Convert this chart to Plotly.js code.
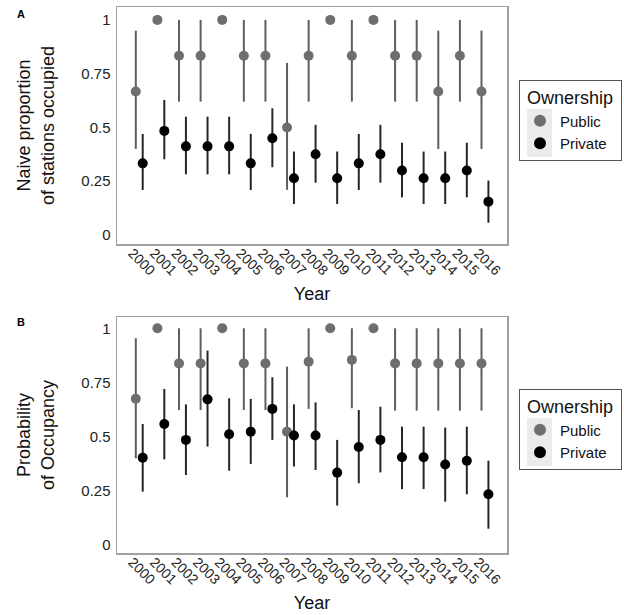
<!DOCTYPE html>
<html>
<head>
<meta charset="utf-8">
<script src="https://cdn.plot.ly/plotly-3.0.1.min.js"></script>
<style>html,body{margin:0;padding:0;background:#fff;}#chart{width:624px;height:615px;}</style>
</head>
<body>
<div id="chart"></div>
<script>
const years = [2000,2001,2002,2003,2004,2005,2006,2007,2008,2009,2010,2011,2012,2013,2014,2015,2016];
const yearLabels = years.map(String);

// Panel A: naive proportion of stations occupied
const naivePublic   = [0.667,1,0.833,0.833,1,0.833,0.833,0.5,0.833,1,0.833,1,0.833,0.833,0.667,0.833,0.667];
const naivePublicLo = [0.40,1,0.62,0.62,1,0.62,0.62,0.21,0.62,1,0.62,1,0.62,0.62,0.40,0.62,0.40];
const naivePublicHi = [0.95,1,1.0,1.0,1,1.0,1.0,0.80,1.0,1,1.0,1,1.0,1.0,0.95,1.0,0.95];
const naivePrivate   = [0.333,0.484,0.412,0.412,0.412,0.333,0.45,0.264,0.375,0.264,0.333,0.375,0.30,0.264,0.264,0.30,0.155];
const naivePrivateLo = [0.209,0.352,0.282,0.282,0.282,0.209,0.315,0.144,0.243,0.144,0.209,0.243,0.175,0.144,0.144,0.175,0.057];
const naivePrivateHi = [0.47,0.628,0.55,0.55,0.55,0.47,0.589,0.388,0.512,0.388,0.47,0.512,0.429,0.388,0.388,0.429,0.253];

// Panel B: probability of occupancy
const occPublic   = [0.675,1,0.838,0.838,1,0.838,0.838,0.523,0.846,1,0.854,1,0.838,0.838,0.838,0.838,0.838];
const occPublicLo = [0.40,1,0.623,0.623,1,0.623,0.623,0.22,0.628,1,0.631,1,0.62,0.62,0.62,0.62,0.62];
const occPublicHi = [0.954,1,1.0,1.0,1,1.0,1.0,0.823,1.0,1,1.0,1,1.0,1.0,1.0,1.0,1.0];
const occPrivate   = [0.403,0.558,0.485,0.672,0.511,0.523,0.628,0.505,0.505,0.334,0.452,0.485,0.405,0.405,0.371,0.389,0.234];
const occPrivateLo = [0.246,0.395,0.323,0.454,0.343,0.374,0.485,0.362,0.346,0.182,0.285,0.335,0.258,0.258,0.20,0.234,0.075];
const occPrivateHi = [0.558,0.72,0.649,0.897,0.677,0.674,0.774,0.649,0.658,0.485,0.623,0.638,0.546,0.546,0.542,0.546,0.389];

const dodge = 0.16;
const pubColor = '#6e6e6e', pubLine = '#5e5e5e';
const privColor = '#000000', privLine = '#262626';

function series(name, vals, lo, hi, offset, color, lineColor, xa, ya, legend) {
  return {
    type: 'scatter', mode: 'markers', name: name,
    x: years.map(y => y + offset), y: vals,
    xaxis: xa, yaxis: ya, legend: legend, showlegend: true,
    marker: {color: color, size: 10, line: {width: 0}},
    error_y: {type: 'data', symmetric: false,
      array: hi.map((h, i) => h - vals[i]),
      arrayminus: lo.map((l, i) => vals[i] - l),
      color: lineColor, thickness: 2, width: 0}
  };
}

const data = [
  series('Public', naivePublic, naivePublicLo, naivePublicHi, -dodge, pubColor, pubLine, 'x', 'y', 'legend'),
  series('Private', naivePrivate, naivePrivateLo, naivePrivateHi, dodge, privColor, privLine, 'x', 'y', 'legend'),
  series('Public', occPublic, occPublicLo, occPublicHi, -dodge, pubColor, pubLine, 'x2', 'y2', 'legend2'),
  series('Private', occPrivate, occPrivateLo, occPrivateHi, dodge, privColor, privLine, 'x2', 'y2', 'legend2')
];

const fontFam = 'Liberation Sans, Arial, sans-serif';
function xaxis(anchor) {
  return {
    anchor: anchor, domain: [117/624, 507/624], range: [1998.97, 2017.02],
    tickmode: 'array', tickvals: years, ticktext: yearLabels, tickangle: 45,
    ticks: '', ticklabelshift: -7, ticklabelstandoff: -6,
    tickfont: {family: fontFam, size: 14, color: '#222'},
    showgrid: false, zeroline: false,
    showline: true, mirror: true, linecolor: '#a0a0a0', linewidth: 1.5,
    title: {text: 'Year', font: {family: fontFam, size: 18, color: '#111'}, standoff: 10}
  };
}
function yaxis(anchor, domain, range, title) {
  return {
    anchor: anchor, domain: domain, range: range,
    tickmode: 'array', tickvals: [0, 0.25, 0.5, 0.75, 1], ticktext: ['0', '0.25', '0.5', '0.75', '1'],
    ticks: '', ticklabelstandoff: 2,
    tickfont: {family: fontFam, size: 15, color: '#222'},
    showgrid: false, zeroline: false,
    showline: true, mirror: true, linecolor: '#a0a0a0', linewidth: 1.5,
    title: {text: title, font: {family: fontFam, size: 18, color: '#111'}, standoff: 22}
  };
}

function legendCfg(yTop) {
  return {
    x: 519/624, y: yTop, xanchor: 'left', yanchor: 'top',
    bgcolor: 'rgba(0,0,0,0)', bordercolor: '#555555', borderwidth: 1,
    title: {text: '&nbsp;Ownership&nbsp;', font: {family: fontFam, size: 18, color: '#111'}},
    font: {family: fontFam, size: 15, color: '#111'},
    itemsizing: 'constant', tracegroupgap: 0
  };
}

function keyBg(yTopPx) {
  return {type: 'rect', xref: 'paper', yref: 'paper', layer: 'below',
    x0: 527/624, x1: 552/624, y0: 1 - (yTopPx + 48)/615, y1: 1 - yTopPx/615,
    fillcolor: '#ebebeb', line: {width: 0}};
}

const layout = {
  width: 624, height: 615,
  margin: {l: 0, r: 0, t: 0, b: 0},
  paper_bgcolor: '#ffffff', plot_bgcolor: '#ffffff',
  font: {family: fontFam},
  xaxis: xaxis('y'),
  yaxis: yaxis('x', [1 - 244/615, 1 - 7/615], [-0.042, 1.06], 'Naive proportion<br>of stations occupied'),
  xaxis2: xaxis('y2'),
  yaxis2: yaxis('x2', [1 - 553/615, 1 - 317/615], [-0.037, 1.052], 'Probability<br>of Occupancy'),
  legend: legendCfg(1 - 80/615),
  legend2: legendCfg(1 - 389/615),
  shapes: [keyBg(109), keyBg(418)],
  annotations: [
    {text: '<b>A</b>', x: 21/624, y: 1 - 14/615, xref: 'paper', yref: 'paper', showarrow: false,
     xanchor: 'center', yanchor: 'middle', font: {family: fontFam, size: 11, color: '#000'}},
    {text: '<b>B</b>', x: 21/624, y: 1 - 322/615, xref: 'paper', yref: 'paper', showarrow: false,
     xanchor: 'center', yanchor: 'middle', font: {family: fontFam, size: 11, color: '#000'}}
  ]
};

Plotly.newPlot('chart', data, layout, {staticPlot: true, displayModeBar: false});
</script>
</body>
</html>
